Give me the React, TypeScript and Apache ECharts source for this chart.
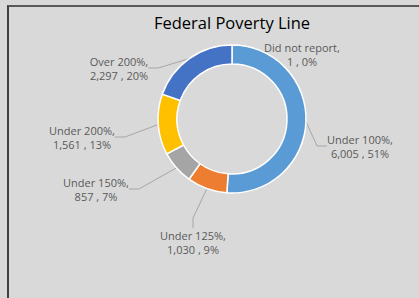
import React, { useEffect, useRef } from "react";
import * as echarts from "echarts";

const categories = ["Did not report", "Under 100%", "Under 125%", "Under 150%", "Under 200%", "Over 200%"];
const values = [1, 6005, 1030, 857, 1561, 2297];
const colors = ["#70ad47", "#5b9bd5", "#ed7d31", "#a5a5a5", "#ffc000", "#4472c4"];
const labelPos: [number, number][] = [
  [302, 54],
  [360, 146],
  [193, 242],
  [96, 189],
  [82, 137],
  [119, 68],
];

export default function App() {
  const ref = useRef<HTMLDivElement>(null);
  useEffect(() => {
    document.body.style.margin = "0";
    document.body.style.background = "#d9d9d9";
    const chart = echarts.init(ref.current!, null, { renderer: "svg" });
    chart.setOption({
      animation: false,
      backgroundColor: "transparent",
      graphic: [
        {
          type: "text",
          x: 232,
          y: 22,
          style: {
            text: "Federal Poverty Line",
            fill: "#000000",
            font: '16.5px "Open Sans"',
            textAlign: "center",
            textVerticalAlign: "middle",
          },
        },
      ],
      series: [
        {
          type: "pie",
          center: [232, 119],
          radius: [55, 74],
          startAngle: 90,
          clockwise: true,
          avoidLabelOverlap: false,
          itemStyle: { borderColor: "#ffffff", borderWidth: 1.5 },
          label: {
            show: true,
            color: "#595959",
            fontFamily: "Open Sans",
            fontSize: 11,
            lineHeight: 14,
            align: "center",
            formatter: (p: any) =>
              p.name + ",\n" + p.value.toLocaleString("en-US") + " , " + Math.round(p.percent) + "%",
          },
          labelLine: {
            show: true,
            length: 10,
            length2: 10,
            lineStyle: { color: "#a6a6a6", width: 1 },
          },
          labelLayout: (params: any) => {
            const pos = labelPos[params.dataIndex];
            return { x: pos[0], y: pos[1], align: "center", verticalAlign: "middle" };
          },
          data: categories.map((c, i) => ({ name: c, value: values[i], itemStyle: { color: colors[i] } })),
        },
      ],
    });
    return () => chart.dispose();
  }, []);
  return (
    <div style={{ position: "fixed", left: 0, top: 0, width: 419, height: 298, background: "#d9d9d9" }}>
      <div
        style={{
          position: "absolute",
          left: 7,
          top: 5,
          right: -10,
          bottom: -10,
          borderLeft: "2px solid #404040",
          borderTop: "2px solid #595959",
        }}
      />
      <div ref={ref} style={{ position: "absolute", left: 0, top: 0, width: 419, height: 298 }} />
    </div>
  );
}
